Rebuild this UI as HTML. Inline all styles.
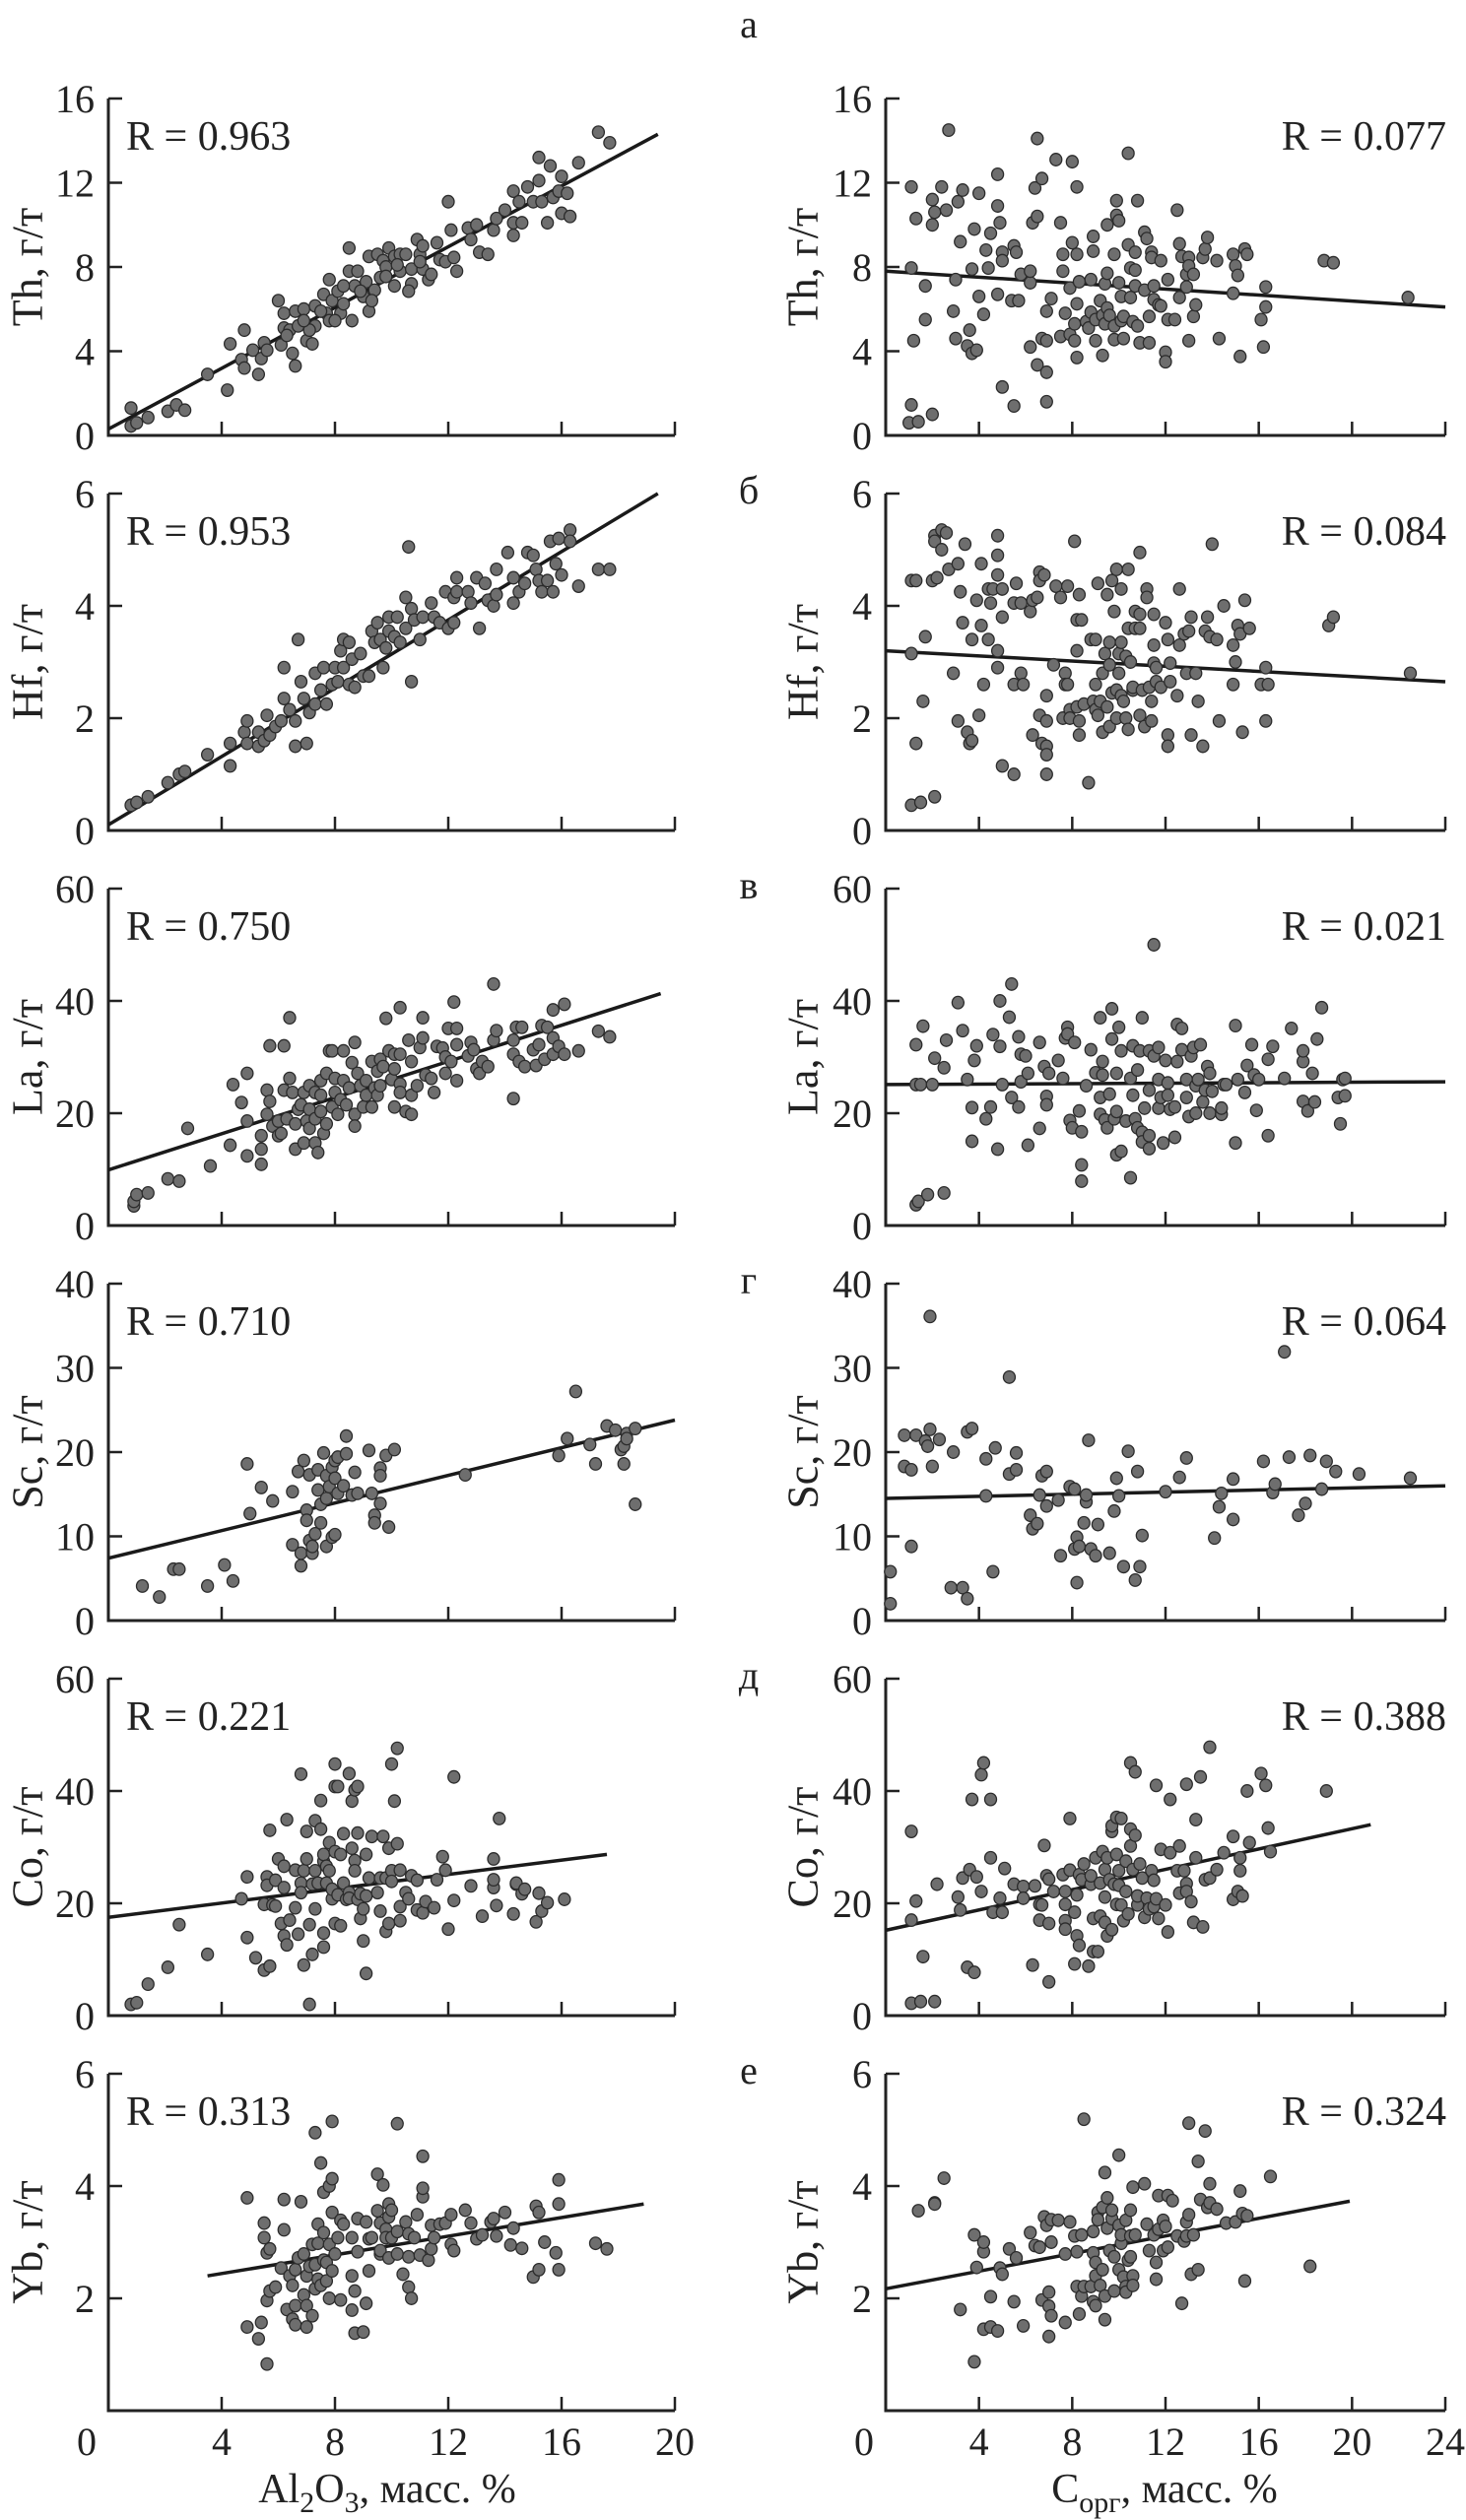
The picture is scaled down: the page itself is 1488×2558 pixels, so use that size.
<!DOCTYPE html>
<html><head><meta charset="utf-8">
<style>
html,body{margin:0;padding:0;background:#fff;}
svg{display:block;font-family:"Liberation Serif",serif;}
</style></head>
<body>
<svg id="chart" width="1488" height="2558" viewBox="0 0 1488 2558" xmlns="http://www.w3.org/2000/svg"></svg>
<script>
// ----- shared axis data -----
var panelTops = [100, 501, 902, 1303, 1704, 2105];
var elements = ["Th", "Hf", "La", "Sc", "Co", "Yb"];
var yMaxes = [16, 6, 60, 40, 60, 6];
var yTickLists = [[0,4,8,12,16],[0,2,4,6],[0,20,40,60],[0,10,20,30,40],[0,20,40,60],[0,2,4,6]];
var panelLetters = ["а", "б", "в", "г", "д", "е"];
var xTicksLeft = [0,4,8,12,16,20];
var xTicksRight = [0,4,8,12,16,20,24];
var rLeft = ["R = 0.963","R = 0.953","R = 0.750","R = 0.710","R = 0.221","R = 0.313"];
var rRight = ["R = 0.077","R = 0.084","R = 0.021","R = 0.064","R = 0.388","R = 0.324"];
// regression line endpoints [x1,y1,x2,y2]
var lineLeft = [[0,0.3,19.4,14.3],[0,0.1,19.4,6.0],[0,9.9,19.5,41.3],[0,7.4,20,23.8],[0,17.5,17.6,28.7],[3.5,2.4,18.9,3.68]];
var lineRight = [[0,7.8,24,6.1],[0,3.2,24,2.65],[0,25.1,24,25.6],[0,14.5,24,16.0],[0,15.2,20.8,34.0],[0,2.17,19.9,3.73]];

// ----- series (flat x,y pairs) -----
var thAl = [0.8,1.3,0.8,0.45,1.0,0.6,1.4,0.85,2.1,1.15,2.4,1.45,2.7,1.2,3.5,2.9,4.2,2.15,4.3,4.35,4.8,5.0,4.7,3.6,4.8,3.2,5.1,4.05,5.3,2.9,5.4,3.65,5.5,4.4,5.6,4.05,6.0,6.4,6.1,4.3,6.2,5.1,6.2,5.8,6.4,5.0,6.5,3.9,6.6,3.3,6.6,5.9,6.7,5.2,6.9,6.0,7.0,4.5,7.2,4.35,7.3,6.15,7.3,5.2,7.6,6.7,7.7,5.8,7.8,7.4,7.8,5.45,7.9,6.4,8.1,6.85,8.2,5.8,8.3,6.25,8.5,7.8,8.5,8.9,8.6,5.45,8.7,7.1,8.8,7.8,9.0,6.6,9.1,7.3,9.2,5.9,9.2,8.5,9.4,6.9,9.5,8.6,9.6,7.5,9.7,8.3,9.8,8.0,9.9,8.9,10.1,7.1,10.1,8.5,10.3,7.8,10.3,8.6,10.5,8.6,10.7,7.2,10.6,6.85,10.7,7.9,10.9,9.3,11.0,8.6,11.1,9.0,11.1,7.9,11.3,7.4,11.4,7.65,11.6,9.15,11.7,8.35,11.9,8.25,12.0,11.1,12.1,9.75,12.3,7.8,12.2,8.45,12.7,9.85,12.8,9.3,13.0,10.0,13.1,8.7,13.4,8.6,13.6,9.75,13.7,10.3,14.0,10.7,14.3,9.5,14.3,10.1,14.3,11.6,14.5,11.1,14.6,10.1,14.8,11.8,15.0,11.1,15.2,13.2,15.2,12.1,15.3,11.1,15.5,10.1,15.6,12.8,15.7,11.3,15.9,11.6,16.0,12.3,16.0,10.55,16.2,11.5,16.3,10.4,16.6,12.95,17.3,14.4,17.7,13.9,7.1,5.0,8.0,5.45,8.9,6.85,9.3,6.4,9.8,7.55,10.2,8.1,11.0,8.25,8.3,7.1,7.5,5.9,6.9,5.45,6.3,4.75];
var hfAl = [0.8,0.45,1.0,0.5,1.4,0.6,2.1,0.85,2.5,1.0,2.7,1.05,3.5,1.35,4.3,1.15,4.3,1.55,4.8,1.75,4.9,1.95,4.9,1.55,5.3,1.75,5.3,1.5,5.5,1.6,5.6,2.05,5.7,1.7,5.9,1.85,6.1,1.95,6.2,2.9,6.2,2.35,6.4,2.15,6.6,1.5,6.6,1.95,6.7,3.4,6.8,2.65,6.9,2.35,7.0,1.55,7.1,2.1,7.3,2.8,7.3,2.25,7.5,2.5,7.6,2.9,7.7,2.25,7.9,2.6,8.0,2.9,8.1,2.65,8.2,3.2,8.3,3.4,8.3,2.9,8.5,2.6,8.5,3.35,8.6,3.05,8.7,2.55,8.9,3.15,9.0,2.75,9.2,2.75,9.3,3.55,9.4,3.35,9.5,3.7,9.6,3.4,9.7,2.9,9.8,3.25,9.9,3.8,9.9,3.55,10.1,3.45,10.2,3.8,10.3,3.35,10.5,3.6,10.5,4.15,10.6,5.05,10.7,3.95,10.7,2.65,10.8,3.75,11.0,3.4,11.1,3.8,11.4,4.05,11.5,3.8,11.7,3.7,11.9,4.25,12.0,3.6,12.2,3.7,12.2,4.15,12.3,4.5,12.3,4.25,12.7,4.25,12.8,4.05,13.0,4.5,13.1,3.6,13.3,4.4,13.4,4.1,13.6,4.0,13.7,4.2,13.7,4.65,14.1,4.95,14.3,4.05,14.3,4.5,14.5,4.25,14.7,4.4,14.8,4.95,15.0,4.9,15.1,4.65,15.2,4.45,15.3,4.25,15.5,4.45,15.6,5.15,15.7,4.25,15.8,4.75,15.9,5.2,16.0,4.55,16.3,5.35,16.3,5.15,16.6,4.35,17.3,4.65,17.7,4.65];
var laAl = [0.9,3.5,0.9,4.3,1.0,5.5,1.4,5.8,2.1,8.3,2.5,7.9,2.8,17.3,3.6,10.6,4.3,14.3,4.4,25.1,4.7,21.9,4.9,27.1,4.9,18.6,4.9,12.4,5.4,10.9,5.4,16.0,5.4,13.6,5.6,19.8,5.6,24.1,5.7,32.0,5.7,22.1,5.8,17.7,6.0,16.0,6.0,18.6,6.1,16.4,6.2,32.0,6.2,24.1,6.3,19.0,6.4,37.0,6.4,26.2,6.5,23.7,6.6,13.6,6.6,18.1,6.7,20.7,6.8,21.5,6.9,23.7,6.9,14.7,7.0,18.6,7.1,17.3,7.1,24.9,7.1,20.7,7.3,19.0,7.3,14.7,7.3,23.7,7.4,13.0,7.5,23.2,7.5,20.3,7.5,25.8,7.6,16.4,7.7,27.1,7.7,18.1,7.8,31.1,7.9,21.1,7.9,31.1,8.0,26.2,8.0,23.7,8.1,19.8,8.2,22.4,8.3,31.1,8.3,25.8,8.4,21.5,8.5,24.5,8.6,29.0,8.7,19.8,8.7,32.6,8.7,17.7,8.8,27.1,8.9,24.9,9.0,21.1,9.1,23.2,9.1,25.8,9.3,21.1,9.3,29.2,9.4,24.5,9.5,23.2,9.5,27.5,9.6,29.6,9.6,24.9,9.7,28.3,9.8,36.9,9.9,31.1,10.0,26.0,10.1,27.9,10.1,21.1,10.1,30.5,10.3,38.8,10.3,25.2,10.3,30.5,10.3,23.7,10.5,20.3,10.6,33.0,10.7,19.8,10.7,29.2,10.7,23.2,10.9,24.9,11.0,31.7,11.1,37.0,11.1,33.4,11.2,26.8,11.4,26.2,11.5,23.7,11.6,31.9,11.8,31.6,11.9,27.1,11.9,30.0,12.0,35.1,12.1,29.2,12.2,39.8,12.3,25.8,12.3,32.2,12.3,35.1,12.7,30.2,12.8,32.6,12.9,31.3,13.0,27.9,13.1,27.1,13.2,29.2,13.4,28.3,13.6,33.0,13.6,43.0,13.7,34.7,14.3,33.0,14.3,22.6,14.3,30.5,14.4,35.3,14.5,29.2,14.6,35.3,14.7,28.3,15.0,31.3,15.1,28.5,15.2,32.2,15.3,35.6,15.4,29.6,15.5,35.3,15.7,33.4,15.7,38.4,15.7,30.5,15.9,31.9,16.1,30.5,16.1,39.4,16.6,31.1,17.3,34.6,17.7,33.6];
var scAl = [1.2,4.1,1.8,2.8,2.3,6.1,2.5,6.1,3.5,4.1,4.1,6.6,4.4,4.7,4.9,18.6,5.0,12.7,5.4,15.8,5.8,14.2,6.5,9.0,6.5,15.3,6.7,17.7,6.8,8.0,6.8,6.5,6.9,19.0,7.0,13.1,7.0,11.9,7.1,17.3,7.1,9.5,7.2,8.0,7.2,8.8,7.3,10.3,7.4,15.5,7.4,17.9,7.5,11.6,7.5,13.8,7.6,19.9,7.7,17.2,7.7,14.5,7.7,8.8,7.8,15.9,7.9,9.9,7.9,18.2,8.0,16.9,8.0,19.0,8.0,10.2,8.1,15.1,8.1,19.4,8.3,16.0,8.4,21.9,8.4,19.8,8.6,14.9,8.7,17.6,8.8,15.1,9.2,20.2,9.3,15.1,9.4,12.5,9.4,11.6,9.6,13.9,9.6,18.1,9.6,17.2,9.8,19.6,9.9,11.1,10.1,20.3,12.6,17.3,15.9,19.6,16.2,21.6,16.5,27.2,17.0,20.9,17.2,18.6,17.6,23.1,17.9,22.6,18.1,20.3,18.2,20.7,18.2,18.6,18.3,22.2,18.3,21.6,18.6,22.8,18.6,13.8];
var coAl = [0.8,2.0,1.0,2.3,1.4,5.6,2.1,8.6,2.5,16.2,3.5,10.9,4.7,20.8,4.9,24.7,4.9,13.9,5.2,10.3,5.5,8.1,5.7,8.8,5.5,19.8,5.6,24.7,5.6,23.2,5.7,33.0,5.8,19.7,5.9,24.1,5.9,19.5,6.0,27.9,6.1,16.4,6.2,14.2,6.2,26.6,6.2,22.8,6.3,34.9,6.3,12.6,6.4,17.0,6.6,25.9,6.6,19.2,6.7,14.5,6.8,23.6,6.8,21.9,6.8,43.0,6.9,9.0,6.9,25.8,7.0,27.9,7.0,32.8,7.1,16.2,7.1,2.0,7.2,10.9,7.2,23.4,7.3,34.7,7.3,19.0,7.3,25.8,7.4,23.6,7.5,38.3,7.5,33.2,7.6,27.5,7.6,14.7,7.6,12.2,7.6,28.7,7.7,23.6,7.7,26.6,7.8,30.8,7.8,25.8,7.9,20.8,7.9,22.5,8.0,40.8,8.0,44.8,8.0,29.2,8.0,16.4,8.1,21.5,8.1,40.8,8.2,28.7,8.2,16.0,8.3,23.6,8.3,32.4,8.4,20.7,8.5,21.9,8.5,43.1,8.5,20.9,8.6,38.2,8.6,29.8,8.7,40.2,8.7,27.6,8.7,25.8,8.8,40.8,8.8,32.5,8.8,20.7,8.9,17.3,8.9,21.7,9.0,19.0,9.0,13.3,9.1,28.7,9.1,7.5,9.1,21.3,9.2,24.5,9.3,31.9,9.5,21.9,9.6,24.5,9.6,18.6,9.7,31.9,9.8,15.0,9.8,24.5,9.9,16.4,9.9,29.8,10.0,25.8,10.0,44.8,10.0,23.9,10.1,38.2,10.2,47.6,10.2,30.6,10.3,16.9,10.3,19.4,10.3,25.9,10.5,21.9,10.6,20.8,10.7,24.9,10.9,18.8,10.9,24.1,11.1,18.3,11.2,20.3,11.5,19.2,11.6,24.2,11.8,28.3,11.9,25.9,12.0,15.4,12.2,42.5,12.2,20.5,12.8,23.1,13.2,17.7,13.6,27.9,13.6,22.8,13.6,24.2,13.7,19.6,13.8,35.1,14.3,18.1,14.4,23.4,14.4,23.6,14.6,21.7,14.7,22.5,15.1,16.7,15.2,21.8,15.3,18.6,15.5,20.1,16.1,20.7];
var ybAl = [4.9,3.79,4.9,1.49,5.3,1.28,5.4,1.57,5.6,0.83,5.5,3.34,5.5,3.08,5.6,2.81,5.7,2.88,5.6,1.96,5.7,2.13,5.9,2.2,6.1,2.54,6.2,3.76,6.2,3.22,6.3,1.8,6.4,2.4,6.5,2.23,6.5,1.63,6.6,2.51,6.6,1.53,6.6,1.87,6.7,2.72,6.8,3.72,6.9,2.79,6.9,2.06,7.0,2.4,7.0,1.87,7.0,1.49,7.1,2.57,7.2,2.96,7.2,1.69,7.3,2.17,7.3,4.95,7.3,2.6,7.4,2.98,7.4,2.34,7.4,3.32,7.5,4.41,7.5,2.23,7.6,3.89,7.6,2.68,7.6,3.17,7.7,2.31,7.7,2.64,7.8,4.0,7.8,2.96,7.8,2.0,7.9,2.49,7.9,5.15,7.9,4.13,7.9,3.53,8.0,2.79,8.1,3.08,8.2,1.97,8.2,3.39,8.3,3.32,8.6,2.4,8.6,1.79,8.6,3.08,8.7,2.13,8.7,1.38,8.8,3.42,8.8,2.83,9.0,1.4,9.1,1.91,9.1,3.36,9.2,2.49,9.2,3.06,9.3,3.08,9.5,3.56,9.5,4.21,9.6,2.79,9.6,3.34,9.6,2.85,9.7,4.02,9.8,3.23,9.8,3.08,9.9,2.72,9.9,3.45,9.9,3.68,10.0,3.57,10.0,3.08,10.2,5.11,10.2,3.19,10.2,2.79,10.4,2.43,10.5,3.36,10.6,2.2,10.6,3.15,10.6,2.74,10.7,2.0,10.8,3.08,10.9,3.49,11.0,2.77,11.1,4.53,11.1,3.81,11.1,3.96,11.3,2.68,11.4,2.88,11.4,3.3,11.5,3.08,11.7,3.32,11.9,3.34,12.1,3.49,12.1,2.96,12.2,2.85,12.6,3.57,12.8,3.34,13.0,3.06,13.2,3.13,13.5,3.36,13.6,3.42,13.7,3.11,14.0,3.53,14.2,2.95,14.3,3.25,14.6,2.89,15.0,2.38,15.1,3.64,15.2,3.53,15.2,2.51,15.4,3.0,15.8,2.81,15.9,4.11,15.9,3.68,15.9,2.51,17.2,2.98,17.6,2.88];
var thC = [1.1,11.8,1.1,7.95,1.1,1.45,1.0,0.6,1.4,0.65,1.3,10.3,1.2,4.5,1.7,5.5,1.7,7.1,2.0,1.0,2.0,10.0,2.1,10.6,2.0,11.2,2.4,11.8,2.6,10.7,2.7,14.5,2.9,5.9,3.0,7.4,3.0,4.6,3.1,11.1,3.2,9.2,3.3,11.65,3.5,4.25,3.6,5.0,3.7,7.9,3.7,3.9,3.8,9.8,3.9,4.05,4.0,6.6,4.0,11.5,4.2,5.75,4.3,8.8,4.4,7.95,4.5,9.6,4.8,6.7,4.8,10.9,4.8,12.4,4.9,10.1,5.0,8.7,5.0,2.3,5.0,8.3,5.4,6.4,5.5,9.0,5.5,1.4,5.6,8.7,5.7,6.4,5.8,7.65,6.2,7.25,6.2,7.8,6.2,4.2,6.3,10.1,6.4,11.75,6.5,10.4,6.5,3.35,6.7,4.6,6.7,12.2,6.5,14.1,6.9,3.0,6.9,5.9,6.9,4.5,6.9,1.6,7.1,6.5,7.3,13.1,7.5,10.1,7.5,4.7,7.6,7.8,7.6,8.6,7.7,5.8,7.9,4.8,7.9,7.0,8.0,13.0,8.0,9.15,8.1,5.3,8.1,4.5,8.2,6.25,8.2,3.7,8.2,8.6,8.2,11.8,8.3,7.3,8.6,5.4,8.7,5.1,8.8,7.4,8.8,5.85,8.9,8.75,8.9,9.45,9.0,5.5,9.0,4.5,9.2,6.4,9.3,5.7,9.3,3.8,9.4,5.3,9.4,7.2,9.5,10.0,9.5,7.7,9.5,6.05,9.6,5.7,9.8,8.6,9.8,5.2,9.8,4.55,9.9,11.15,9.9,10.45,10.0,7.25,10.0,10.2,10.1,6.6,10.1,5.45,10.2,4.6,10.2,5.65,10.4,13.4,10.4,9.05,10.5,7.95,10.5,6.55,10.6,5.4,10.7,8.7,10.7,7.85,10.7,7.1,10.8,5.2,10.8,11.15,10.9,4.4,11.1,6.9,11.1,9.65,11.2,9.35,11.3,5.65,11.3,4.4,11.4,8.7,11.4,8.45,11.5,6.45,11.5,7.1,11.7,6.2,11.8,6.15,11.8,8.3,12.0,3.95,12.0,3.5,12.1,7.4,12.1,5.5,12.4,5.5,12.5,10.7,12.6,9.1,12.6,6.55,12.7,8.5,12.9,7.65,12.9,7.05,13.0,8.45,13.0,4.5,13.0,8.05,13.2,7.65,13.2,5.65,13.3,6.2,13.6,8.45,13.7,8.85,13.8,9.4,14.2,8.3,14.3,4.6,14.9,8.6,14.9,6.75,15.0,8.05,15.1,7.6,15.2,3.75,15.4,8.85,15.5,8.6,16.1,5.5,16.2,4.2,16.3,6.1,16.3,7.05,18.8,8.3,19.2,8.2,22.4,6.55];
var hfC = [1.1,4.45,1.3,4.45,1.1,3.15,1.3,1.55,1.1,0.45,1.5,0.5,2.1,0.6,1.7,3.45,1.6,2.3,2.0,4.45,2.2,4.5,2.1,5.25,2.1,5.15,2.4,5.35,2.6,5.3,2.4,5.0,2.7,4.65,3.1,4.75,3.2,4.25,2.9,2.8,3.1,1.95,3.3,3.7,3.4,5.1,3.5,1.75,3.6,1.55,3.7,1.6,3.7,3.4,3.9,4.1,4.0,2.05,4.1,3.65,4.1,4.75,4.2,2.6,4.4,3.4,4.4,4.3,4.5,4.05,4.6,4.3,4.8,5.25,4.8,4.9,4.8,4.55,4.8,3.2,4.8,2.9,5.0,4.3,5.0,3.8,5.0,1.15,5.5,4.05,5.5,2.6,5.5,1.0,5.6,4.4,5.8,4.05,5.8,2.8,5.9,2.6,6.2,3.9,6.3,4.1,6.3,1.7,6.5,4.15,6.6,4.6,6.6,4.45,6.6,2.05,6.7,1.55,6.8,4.55,6.9,2.4,6.9,1.5,6.9,1.35,6.9,1.95,6.9,1.0,7.2,2.95,7.3,4.35,7.5,4.15,7.6,2.0,7.7,2.8,7.7,2.6,7.8,4.35,7.8,2.6,7.9,2.15,7.9,2.0,8.1,5.15,8.2,3.2,8.2,2.2,8.2,3.75,8.3,4.2,8.3,1.95,8.3,1.7,8.4,3.75,8.5,2.25,8.7,0.85,8.8,3.4,8.9,2.3,9.0,3.4,9.0,2.6,9.0,2.15,9.1,4.4,9.1,2.05,9.2,2.3,9.3,2.8,9.3,1.75,9.4,3.15,9.5,2.2,9.5,4.2,9.6,1.85,9.6,2.95,9.6,3.35,9.7,2.45,9.7,4.45,9.8,3.9,9.9,2.5,9.9,2.0,9.9,4.65,10.0,3.15,10.0,2.8,10.1,3.35,10.1,4.3,10.1,2.4,10.2,2.3,10.3,2.0,10.3,3.1,10.4,1.8,10.4,3.6,10.4,4.65,10.5,3.0,10.6,2.5,10.6,2.55,10.7,3.6,10.7,3.9,10.9,2.05,10.9,3.6,10.9,4.95,10.9,3.85,11.0,2.5,11.1,1.85,11.2,4.3,11.2,4.15,11.3,2.55,11.4,2.3,11.4,1.95,11.5,3.3,11.5,3.85,11.5,2.98,11.6,2.65,11.6,2.9,11.8,2.55,12.0,3.7,12.1,3.4,12.1,1.7,12.1,1.5,12.2,2.98,12.2,2.65,12.5,2.4,12.6,4.3,12.6,3.3,12.8,3.5,12.9,2.8,13.0,3.55,13.1,1.7,13.1,3.8,13.3,2.8,13.4,2.3,13.6,1.5,13.7,3.55,13.8,3.8,13.9,3.45,14.0,5.1,14.2,3.4,14.3,1.95,14.5,4.0,14.9,3.3,14.9,2.6,15.0,3.0,15.1,3.65,15.2,3.5,15.3,1.75,15.4,4.1,15.6,3.6,16.1,2.6,16.3,2.9,16.3,1.95,16.4,2.6,19.0,3.65,19.2,3.8,22.5,2.8];
var laC = [1.3,3.7,1.4,4.3,1.8,5.5,2.5,5.8,1.3,25.1,1.5,25.1,2.0,25.1,1.3,32.2,1.6,35.5,2.1,29.8,2.5,28.1,2.6,33.0,3.1,39.7,3.3,34.7,3.5,26.0,3.7,21.0,3.7,15.0,3.8,29.4,3.9,32.0,4.3,19.0,4.5,21.1,4.6,34.0,4.8,13.6,4.9,40.0,4.9,31.9,5.0,25.1,5.3,37.1,5.4,43.0,5.4,22.8,5.7,21.1,5.7,33.6,5.8,25.6,5.8,30.5,6.0,30.2,6.1,14.3,6.1,27.1,6.6,32.6,6.6,17.3,6.8,28.3,6.9,23.0,6.9,21.5,7.0,27.1,7.4,29.4,7.6,26.2,7.7,33.4,7.8,35.3,7.8,34.1,7.9,18.7,8.0,17.4,8.1,32.6,8.3,20.4,8.4,16.7,8.4,10.8,8.4,7.9,8.6,24.9,8.8,31.3,9.0,27.2,9.2,37.0,9.2,19.8,9.2,22.8,9.3,26.8,9.3,29.2,9.4,18.8,9.5,17.4,9.6,23.4,9.7,38.6,9.7,33.2,9.8,19.0,9.9,20.3,9.9,27.1,9.9,12.6,10.0,35.3,10.1,31.1,10.1,13.2,10.3,18.6,10.5,8.5,10.5,26.2,10.6,23.2,10.6,32.0,10.7,19.0,10.8,27.7,10.8,17.4,10.9,31.1,11.0,37.0,11.0,16.6,11.0,14.9,11.1,20.9,11.3,24.1,11.3,31.1,11.3,13.7,11.3,16.0,11.5,50.0,11.5,30.2,11.7,26.0,11.7,20.9,11.7,31.7,11.8,22.8,11.9,14.7,12.0,29.4,12.1,25.4,12.1,23.2,12.2,20.7,12.4,21.1,12.4,15.7,12.5,35.8,12.5,29.2,12.7,35.1,12.7,31.3,12.9,26.0,12.9,22.8,13.0,19.4,13.1,30.2,13.2,31.7,13.3,20.0,13.3,24.9,13.4,26.0,13.5,32.2,13.6,22.0,13.7,24.1,13.8,28.3,13.9,20.0,13.9,27.1,14.0,23.9,14.4,19.8,14.4,20.9,14.5,25.1,14.6,25.1,15.0,35.6,15.0,14.7,15.1,26.0,15.4,23.7,15.5,28.5,15.7,32.2,15.8,26.8,15.9,20.5,16.0,26.0,16.4,16.0,16.4,29.6,16.6,31.9,17.1,26.2,17.4,35.1,17.9,29.2,17.9,31.1,17.9,22.1,18.1,20.4,18.3,27.1,18.4,22.0,18.5,33.2,18.7,38.8,19.4,22.8,19.5,18.1,19.6,26.0,19.7,26.2,19.7,23.1];
var scC = [0.2,2.0,0.2,5.8,0.8,22.0,0.8,18.3,1.1,17.9,1.1,8.8,1.3,22.0,1.7,21.3,1.8,20.7,1.9,22.7,1.9,36.1,2.0,18.3,2.3,21.5,2.8,3.9,2.9,20.0,3.3,3.9,3.5,2.6,3.5,22.4,3.7,22.8,4.3,19.2,4.3,14.8,4.6,5.8,4.7,20.5,5.3,28.9,5.3,17.4,5.6,17.9,5.6,19.9,6.2,12.5,6.3,10.9,6.5,11.5,6.6,14.9,6.7,17.2,6.9,17.7,6.9,13.6,7.4,14.3,7.5,7.7,7.9,15.9,8.1,8.5,8.1,15.6,8.2,9.9,8.2,4.5,8.3,8.8,8.5,11.6,8.6,14.1,8.6,14.9,8.7,21.4,8.8,8.5,9.0,7.7,9.1,11.4,9.6,8.0,9.8,13.0,9.9,16.9,10.0,14.8,10.2,6.4,10.4,20.1,10.7,4.8,10.8,17.7,10.9,6.4,11.0,10.1,12.0,15.3,12.6,17.0,12.9,19.3,14.1,9.8,14.3,13.5,14.4,15.1,14.9,16.8,14.9,12.0,16.2,18.9,16.6,15.2,16.7,16.2,17.1,31.9,17.3,19.4,17.7,12.5,18.0,13.9,18.2,19.6,18.7,15.6,18.9,18.9,19.3,17.7,20.3,17.4,22.5,16.9];
var coC = [1.1,2.2,1.5,2.5,2.1,2.5,1.1,32.8,1.1,17.0,1.3,20.4,1.6,10.5,2.2,23.4,3.1,21.1,3.2,18.8,3.3,24.5,3.5,8.6,3.6,26.0,3.7,38.5,3.8,7.7,3.9,24.7,4.1,42.9,4.2,45.0,4.1,22.1,4.5,38.5,4.5,28.1,4.6,18.4,4.9,20.9,5.0,18.4,5.1,26.2,5.5,23.4,5.9,23.0,5.9,20.9,6.3,9.0,6.4,23.1,6.6,19.8,6.6,17.0,6.7,19.7,6.8,30.3,6.9,24.9,7.0,6.0,7.0,16.4,7.0,24.3,7.2,22.1,7.6,25.1,7.7,19.8,7.7,16.9,7.7,15.4,7.7,22.1,7.9,25.9,7.9,35.1,8.1,9.2,8.1,18.4,8.2,21.5,8.2,14.2,8.3,25.1,8.3,12.5,8.4,24.2,8.5,27.0,8.7,8.8,8.8,23.4,8.8,24.9,8.9,17.3,8.9,11.4,9.0,28.1,9.1,11.4,9.2,17.7,9.2,23.6,9.3,29.2,9.4,26.0,9.4,21.1,9.4,16.6,9.5,28.1,9.5,14.2,9.6,24.2,9.7,15.3,9.7,32.8,9.7,33.8,9.8,23.4,9.9,28.7,9.9,35.3,9.9,19.8,10.0,25.8,10.0,23.2,10.1,35.1,10.1,19.7,10.2,16.9,10.3,22.1,10.3,27.5,10.4,18.1,10.5,30.2,10.5,33.2,10.5,45.0,10.6,26.0,10.7,32.1,10.7,43.4,10.8,19.7,10.8,21.3,10.9,27.0,11.0,24.5,11.1,17.5,11.2,20.9,11.3,19.0,11.4,25.8,11.5,24.1,11.5,19.4,11.6,41.0,11.6,20.8,11.7,17.3,11.8,29.6,12.0,19.7,12.1,14.9,12.2,29.0,12.2,38.5,12.5,25.8,12.6,21.8,12.6,30.2,12.8,25.8,12.9,23.5,12.9,41.2,12.9,22.1,13.1,20.3,13.2,16.6,13.3,34.9,13.3,28.1,13.5,42.5,13.6,15.8,13.7,24.2,13.9,47.8,13.9,24.5,14.2,26.0,14.5,29.0,14.9,20.7,14.9,31.9,15.1,22.1,15.2,28.1,15.2,25.8,15.3,21.3,15.5,40.0,15.6,30.8,16.1,43.1,16.3,41.0,16.4,33.4,16.5,29.2,18.9,40.0];
var ybC = [1.4,3.56,2.1,3.7,2.1,3.68,2.5,4.14,3.2,1.8,3.8,3.13,3.8,0.87,3.9,2.55,4.2,2.83,4.2,3.0,4.2,1.45,4.5,2.03,4.5,1.49,4.8,1.42,4.9,2.54,5.0,2.43,5.3,2.88,5.5,1.94,5.6,2.72,5.9,1.51,6.2,3.17,6.4,2.94,6.6,2.91,6.7,1.97,6.8,3.45,6.9,3.3,7.0,2.11,7.0,1.86,7.0,1.32,7.1,3.4,7.1,1.69,7.1,3.0,7.4,3.39,7.7,1.57,7.7,2.79,7.9,3.36,8.1,3.11,8.2,2.83,8.2,2.21,8.3,1.72,8.4,2.04,8.4,3.13,8.5,5.19,8.5,2.21,8.8,2.21,8.9,3.19,8.9,2.81,8.9,1.94,9.0,2.64,9.0,1.87,9.0,2.4,9.1,3.53,9.1,3.4,9.2,2.23,9.3,3.62,9.3,2.51,9.4,2.04,9.4,4.24,9.4,1.62,9.5,3.79,9.5,3.25,9.6,2.85,9.7,3.42,9.7,3.57,9.8,2.74,9.8,2.13,10.0,4.55,10.0,2.51,10.0,3.3,10.1,2.98,10.1,3.13,10.2,2.38,10.3,2.21,10.3,3.39,10.3,2.11,10.4,2.68,10.5,3.57,10.5,3.11,10.5,2.74,10.6,2.4,10.6,3.98,10.6,2.23,10.7,3.13,11.1,4.04,11.2,3.32,11.3,2.85,11.5,3.13,11.6,2.34,11.6,2.64,11.7,3.83,11.7,3.23,11.9,2.85,11.9,3.39,12.0,3.28,12.1,3.83,12.1,2.91,12.3,3.74,12.5,3.11,12.7,1.91,12.8,3.02,12.9,3.11,12.9,3.36,13.0,5.12,13.0,3.49,13.1,2.43,13.2,3.13,13.4,4.44,13.4,2.51,13.5,3.76,13.7,4.98,13.8,3.62,13.9,4.04,13.9,3.7,14.2,3.59,14.6,3.34,15.0,3.36,15.2,3.91,15.3,3.51,15.4,2.31,15.5,3.47,16.5,4.17,18.2,2.57];

var leftSeries = [thAl, hfAl, laAl, scAl, coAl, ybAl];
var rightSeries = [thC, hfC, laC, scC, coC, ybC];

// ----- rendering -----
var NS = "http://www.w3.org/2000/svg";
var svg = document.getElementById("chart");
var PH = 342;
var LX0 = 110, LX1 = 685, LMAX = 20;
var RX0 = 899, RX1 = 1467, RMAX = 24;
function xLeft(v){ return LX0 + v/LMAX*(LX1-LX0); }
function xRight(v){ return RX0 + v/RMAX*(RX1-RX0); }
function yScale(v, i){ return panelTops[i] + PH - v/yMaxes[i]*PH; }
function mk(tag, attrs, parent){
  var e = document.createElementNS(NS, tag);
  for (var k in attrs) e.setAttribute(k, attrs[k]);
  (parent||svg).appendChild(e);
  return e;
}
function txt(str, attrs, parent){
  var t = mk("text", attrs, parent);
  t.textContent = str;
  return t;
}

var topL = txt(panelLetters[0], {x:760, y:38, "font-size":40, "text-anchor":"middle", fill:"#222"});



for (var i = 0; i < 6; i++) {
  for (var side = 0; side < 2; side++) {
    var left = side === 0;
    var xf = left ? xLeft : xRight;
    var X0 = left ? LX0 : RX0, X1 = left ? LX1 : RX1;
    var pTop = panelTops[i], pBot = pTop + PH;
    var g = mk("g", {});
    
    

    var ax = mk("path", {d:"M"+X0+" "+pTop+" V"+pBot+" H"+X1, fill:"none", stroke:"#222", "stroke-width":3}, g);
    
    

    var yt = yTickLists[i];
    for (var k = 0; k < yt.length; k++) {
      var yy = yScale(yt[k], i);
      if (yt[k] !== 0) {
        var tk = mk("line", {x1:X0, x2:X0+14, y1:yy, y2:yy, stroke:"#222", "stroke-width":2.5}, g);
        
        
      }
      if (!(i === 5 && yt[k] === 0)) {
        var tl = txt(String(yt[k]), {x:X0-14, y:yy+14, "font-size":40, "text-anchor":"end", fill:"#222"}, g);
        
        
      }
    }
    var xt = left ? xTicksLeft : xTicksRight;
    for (var k = 1; k < xt.length; k++) {
      var xx = xf(xt[k]);
      var xk = mk("line", {x1:xx, x2:xx, y1:pBot, y2:pBot-14, stroke:"#222", "stroke-width":2.5}, g);
      
      
    }
    if (i === 5) {
      for (var k = 0; k < xt.length; k++) {
        var lx = k === 0 ? X0 - 22 : xf(xt[k]);
        var xl = txt(String(xt[k]), {x:lx, y:pBot+45, "font-size":40, "text-anchor":"middle", fill:"#222"}, g);
        
        
      }
    }

    var cx = left ? 28 : 815, cy = pTop + PH/2;
    var yl = txt(elements[i] + ", г/т", {x:cx, y:cy, "font-size":44, "text-anchor":"middle", "dominant-baseline":"central", transform:"rotate(-90 "+cx+" "+cy+")", fill:"#222"}, g);
    
    

    var L = left ? lineLeft[i] : lineRight[i];
    var rl = mk("line", {x1:xf(L[0]), y1:yScale(L[1], i), x2:xf(L[2]), y2:yScale(L[3], i), stroke:"#1a1a1a", "stroke-width":3.5}, g);
    
    

    var s = left ? leftSeries[i] : rightSeries[i];
    for (var p = 0; p + 1 < s.length; p += 2) {
      var c = mk("ellipse", {cx:xf(s[p]), cy:yScale(s[p+1], i), rx:6, ry:6.3, fill:"#6e6e6e", stroke:"#2b2b2b", "stroke-width":1.3}, g);
      
      
    }

    var rt = left
      ? txt(rLeft[i], {x:128, y:pTop+52, "font-size":42, "text-anchor":"start", fill:"#222"}, g)
      : txt(rRight[i], {x:1468, y:pTop+52, "font-size":42, "text-anchor":"end", fill:"#222"}, g);
    
    
  }
  if (i > 0) {
    var pl = txt(panelLetters[i], {x:760, y:panelTops[i]+10, "font-size":40, "text-anchor":"middle", fill:"#222"});
    
    
  }
}

var xt1 = mk("text", {x:393, y:2540, "font-size":42, "text-anchor":"middle", fill:"#222"});


xt1.innerHTML = 'Al<tspan font-size="30" dy="10">2</tspan><tspan dy="-10">O</tspan><tspan font-size="30" dy="10">3</tspan><tspan dy="-10">, масс. %</tspan>';
var xt2 = mk("text", {x:1182, y:2540, "font-size":42, "text-anchor":"middle", fill:"#222"});


xt2.innerHTML = 'C<tspan font-size="30" dy="10">орг</tspan><tspan dy="-10">, масс. %</tspan>';
</script>
</body></html>
